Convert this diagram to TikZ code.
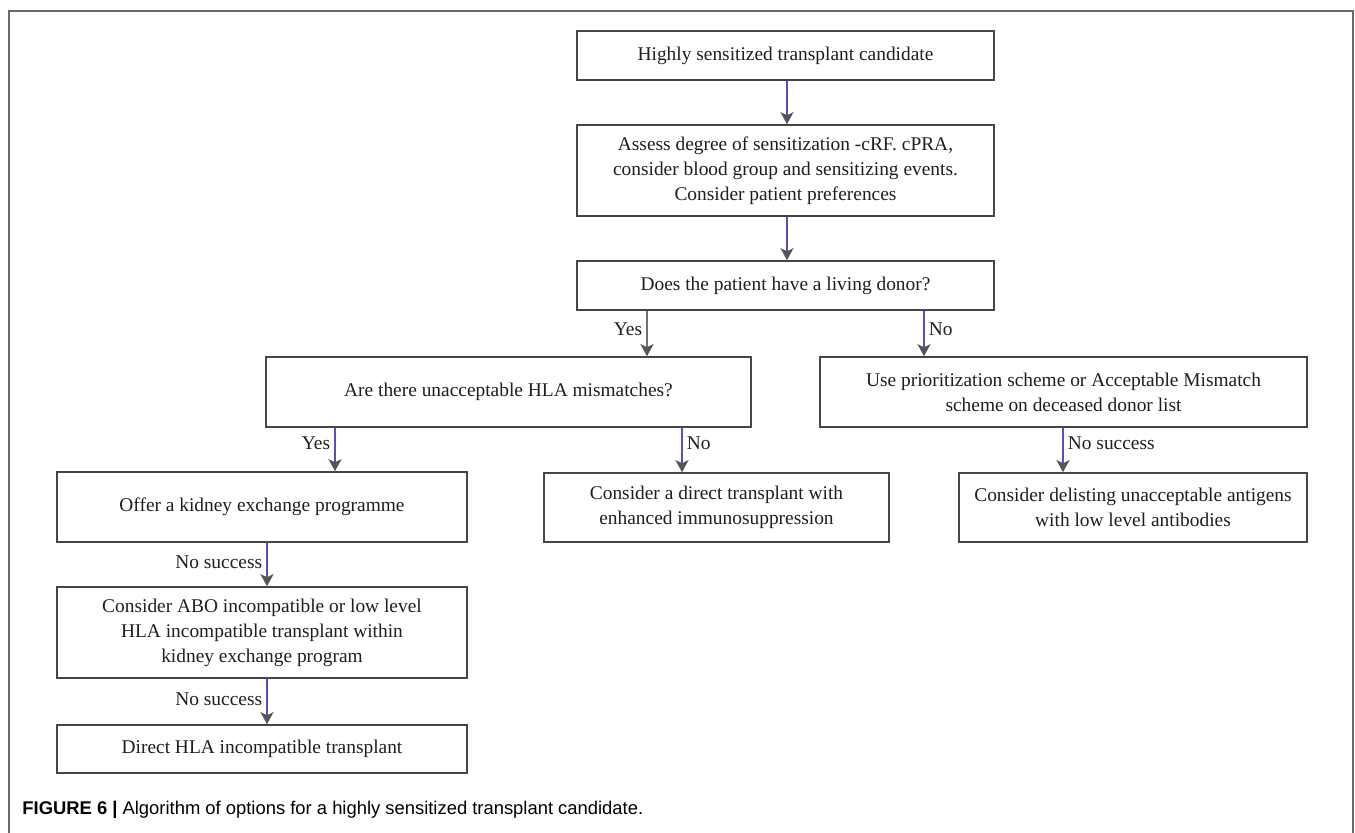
\documentclass[tikz,border=0pt]{standalone}
\usepackage{fontspec}
\setmainfont{Liberation Serif}
\newfontfamily\captionfont{Liberation Sans}
\usepackage{xcolor}
\usetikzlibrary{arrows.meta}

\definecolor{boxgray}{RGB}{70,70,70}
\definecolor{framegray}{RGB}{105,105,105}
\definecolor{linepurple}{RGB}{95,75,190}
\definecolor{tipgray}{RGB}{85,85,90}
\definecolor{textblack}{RGB}{30,30,30}

\tikzset{
    box/.style={draw=boxgray, line width=0.8pt, rectangle, align=center, inner sep=2pt,
        text=textblack, font=\fontsize{9.7}{12.5}\selectfont},
    flow/.style={draw=linepurple, line width=0.9pt,
        -{Stealth[length=6pt, width=6.5pt, inset=1.5pt, color=tipgray]}},
    grayflow/.style={flow, draw=tipgray!85},
    lbl/.style={text=textblack, font=\fontsize{9.7}{12}\selectfont, inner sep=2pt}
}

\begin{document}
\begin{tikzpicture}[x=0.5pt, y=-0.5pt]
    \useasboundingbox (0,0) rectangle (1355,833);
    \draw[framegray, line width=0.7pt] (9,833) -- (9,11) -- (1353,11) -- (1353,833);

    \node[box, minimum width=208.5pt, minimum height=24.5pt] (cand) at (785.5,55.5) {Highly sensitized transplant candidate};
    \node[box, minimum width=208.5pt, minimum height=45.5pt] (assess) at (785.5,170.5) {Assess degree of sensitization -cRF. cPRA,\\consider blood group and sensitizing events.\\Consider patient preferences};
    \node[box, minimum width=208.5pt, minimum height=24.5pt] (donor) at (785.5,285.5) {Does the patient have a living donor?};

    \node[box, minimum width=242.5pt, minimum height=35pt] (hla) at (508.5,392) {Are there unacceptable HLA mismatches?};
    \node[box, minimum width=243.5pt, minimum height=35pt] (prior) at (1063.5,392) {Use prioritization scheme or Acceptable Mismatch\\scheme on deceased donor list};

    \node[box, minimum width=205pt, minimum height=35pt] (kep) at (262,507) {Offer a kidney exchange programme};
    \node[box, minimum width=172.5pt, minimum height=34.5pt] (direct) at (716.5,507.5) {Consider a direct transplant with\\enhanced immunosuppression};
    \node[box, minimum width=174pt, minimum height=34.5pt] (delist) at (1133,507.5) {Consider delisting unacceptable antigens\\with low level antibodies};

    \node[box, minimum width=205pt, minimum height=45.5pt] (abo) at (262,632.5) {Consider ABO incompatible or low level\\HLA incompatible transplant within\\kidney exchange program};
    \node[box, minimum width=205pt, minimum height=24pt] (dhla) at (262,749) {Direct HLA incompatible transplant};

    % x positions of the arrows
    \coordinate (mainx) at (787,0);
    \coordinate (donoryes) at (647,0);
    \coordinate (donorno) at (924,0);
    \coordinate (hlayes) at (335,0);
    \coordinate (hlano) at (682,0);
    \coordinate (priorx) at (1063,0);
    \coordinate (kepx) at (267,0);

    \draw[flow] (cand.south -| mainx) -- (assess.north -| mainx);
    \draw[flow] (assess.south -| mainx) -- (donor.north -| mainx);
    \draw[grayflow] (donor.south -| donoryes) -- node[lbl, left, pos=0.4] {Yes} (hla.north -| donoryes);
    \draw[flow] (donor.south -| donorno) -- node[lbl, right, pos=0.4] {No} (prior.north -| donorno);
    \draw[flow] (hla.south -| hlayes) -- node[lbl, left, pos=0.35] {Yes} (kep.north -| hlayes);
    \draw[flow] (hla.south -| hlano) -- node[lbl, right, pos=0.35] {No} (direct.north -| hlano);
    \draw[flow] (prior.south -| priorx) -- node[lbl, right, pos=0.35] {No success} (delist.north -| priorx);
    \draw[flow] (kep.south -| kepx) -- node[lbl, left, pos=0.45] {No success} (abo.north -| kepx);
    \draw[flow] (abo.south -| kepx) -- node[lbl, left, pos=0.45] {No success} (dhla.north -| kepx);

    \node[anchor=base west, inner sep=0, font=\captionfont\fontsize{9.2}{11}\selectfont] (caption) at (22,814)
        {\textbf{FIGURE 6 |} Algorithm of options for a highly sensitized transplant candidate.};
\end{tikzpicture}
\end{document}
